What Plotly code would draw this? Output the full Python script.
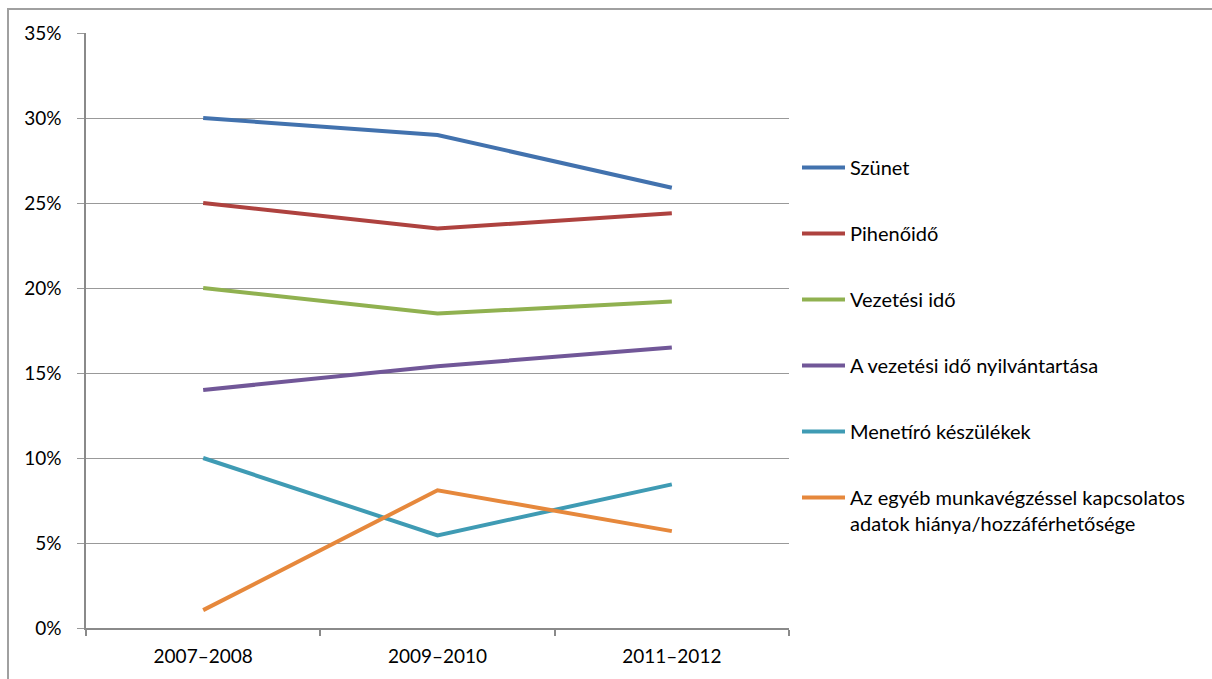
import plotly.graph_objects as go

categories = ["2007–2008", "2009–2010", "2011–2012"]
series_names = [
    "Szünet",
    "Pihenőidő",
    "Vezetési idő",
    "A vezetési idő nyilvántartása",
    "Menetíró készülékek",
    "Az egyéb munkavégzéssel kapcsolatos<br>adatok hiánya/hozzáférhetősége",
]
szunet = [30.0, 29.0, 25.9]
pihenoido = [25.0, 23.5, 24.4]
vezetesi_ido = [20.0, 18.5, 19.2]
nyilvantartas = [14.0, 15.4, 16.5]
menetiro = [10.0, 5.45, 8.45]
egyeb = [1.05, 8.1, 5.7]
series_values = [szunet, pihenoido, vezetesi_ido, nyilvantartas, menetiro, egyeb]
colors = ["#4272AE", "#AE423F", "#90B150", "#715798", "#3F9BB4", "#E6883C"]
y_ticks = [0, 5, 10, 15, 20, 25, 30, 35]
y_tick_labels = [f"{v}%" for v in y_ticks]

W, H = 1212, 679
ml, mr, mt, mb = 86, 423, 33, 51
pw, ph = W - ml - mr, H - mt - mb

FONT = "Lato"

fig = go.Figure()
for i, (name, vals, col) in enumerate(zip(series_names, series_values, colors)):
    fig.add_trace(go.Scatter(
        x=categories, y=vals, mode="lines", name=name,
        line=dict(color=col, width=4),
        legendgroup=f"g{i}",
    ))

def px_to_paper_x(px):
    return (px - ml) / pw

def px_to_paper_y(py):
    return (H - mb - py) / ph

fig.add_shape(type="rect", xref="paper", yref="paper",
              x0=px_to_paper_x(8), x1=px_to_paper_x(1300),
              y0=px_to_paper_y(760), y1=px_to_paper_y(9),
              line=dict(color="#a0a0a0", width=2), fillcolor="rgba(0,0,0,0)", layer="below")

fig.update_layout(
    width=W, height=H,
    margin=dict(l=ml, r=mr, t=mt, b=mb, pad=0),
    paper_bgcolor="white", plot_bgcolor="white",
    font=dict(family=FONT, size=19, color="black"),
    showlegend=True,
    legend=dict(
        x=px_to_paper_x(797), xanchor="left",
        y=px_to_paper_y(148), yanchor="top",
        traceorder="grouped", tracegroupgap=37,
        font=dict(family=FONT, size=20, color="black"),
        valign="top", bgcolor="rgba(0,0,0,0)", borderwidth=0,
        itemwidth=43,
    ),
    xaxis=dict(
        type="category", range=[-0.5, 2.5],
        showgrid=False, showline=True, linecolor="#8a8a8a", linewidth=1.5,
        ticks="outside", tickson="boundaries", ticklen=6, tickcolor="#8a8a8a", tickwidth=1.5,
        tickfont=dict(family=FONT, size=19, color="black"),
        ticklabelstandoff=10,
        fixedrange=True,
    ),
    yaxis=dict(
        range=[0, 35], tickvals=y_ticks, ticktext=y_tick_labels,
        showgrid=True, gridcolor="#999999", gridwidth=1,
        showline=True, linecolor="#8a8a8a", linewidth=1.5,
        ticks="outside", ticklen=7, tickcolor="#999999", tickwidth=1,
        tickfont=dict(family=FONT, size=19, color="black"),
        ticklabelstandoff=12,
        zeroline=False, fixedrange=True,
    ),
)

fig.write_html("out.html")
